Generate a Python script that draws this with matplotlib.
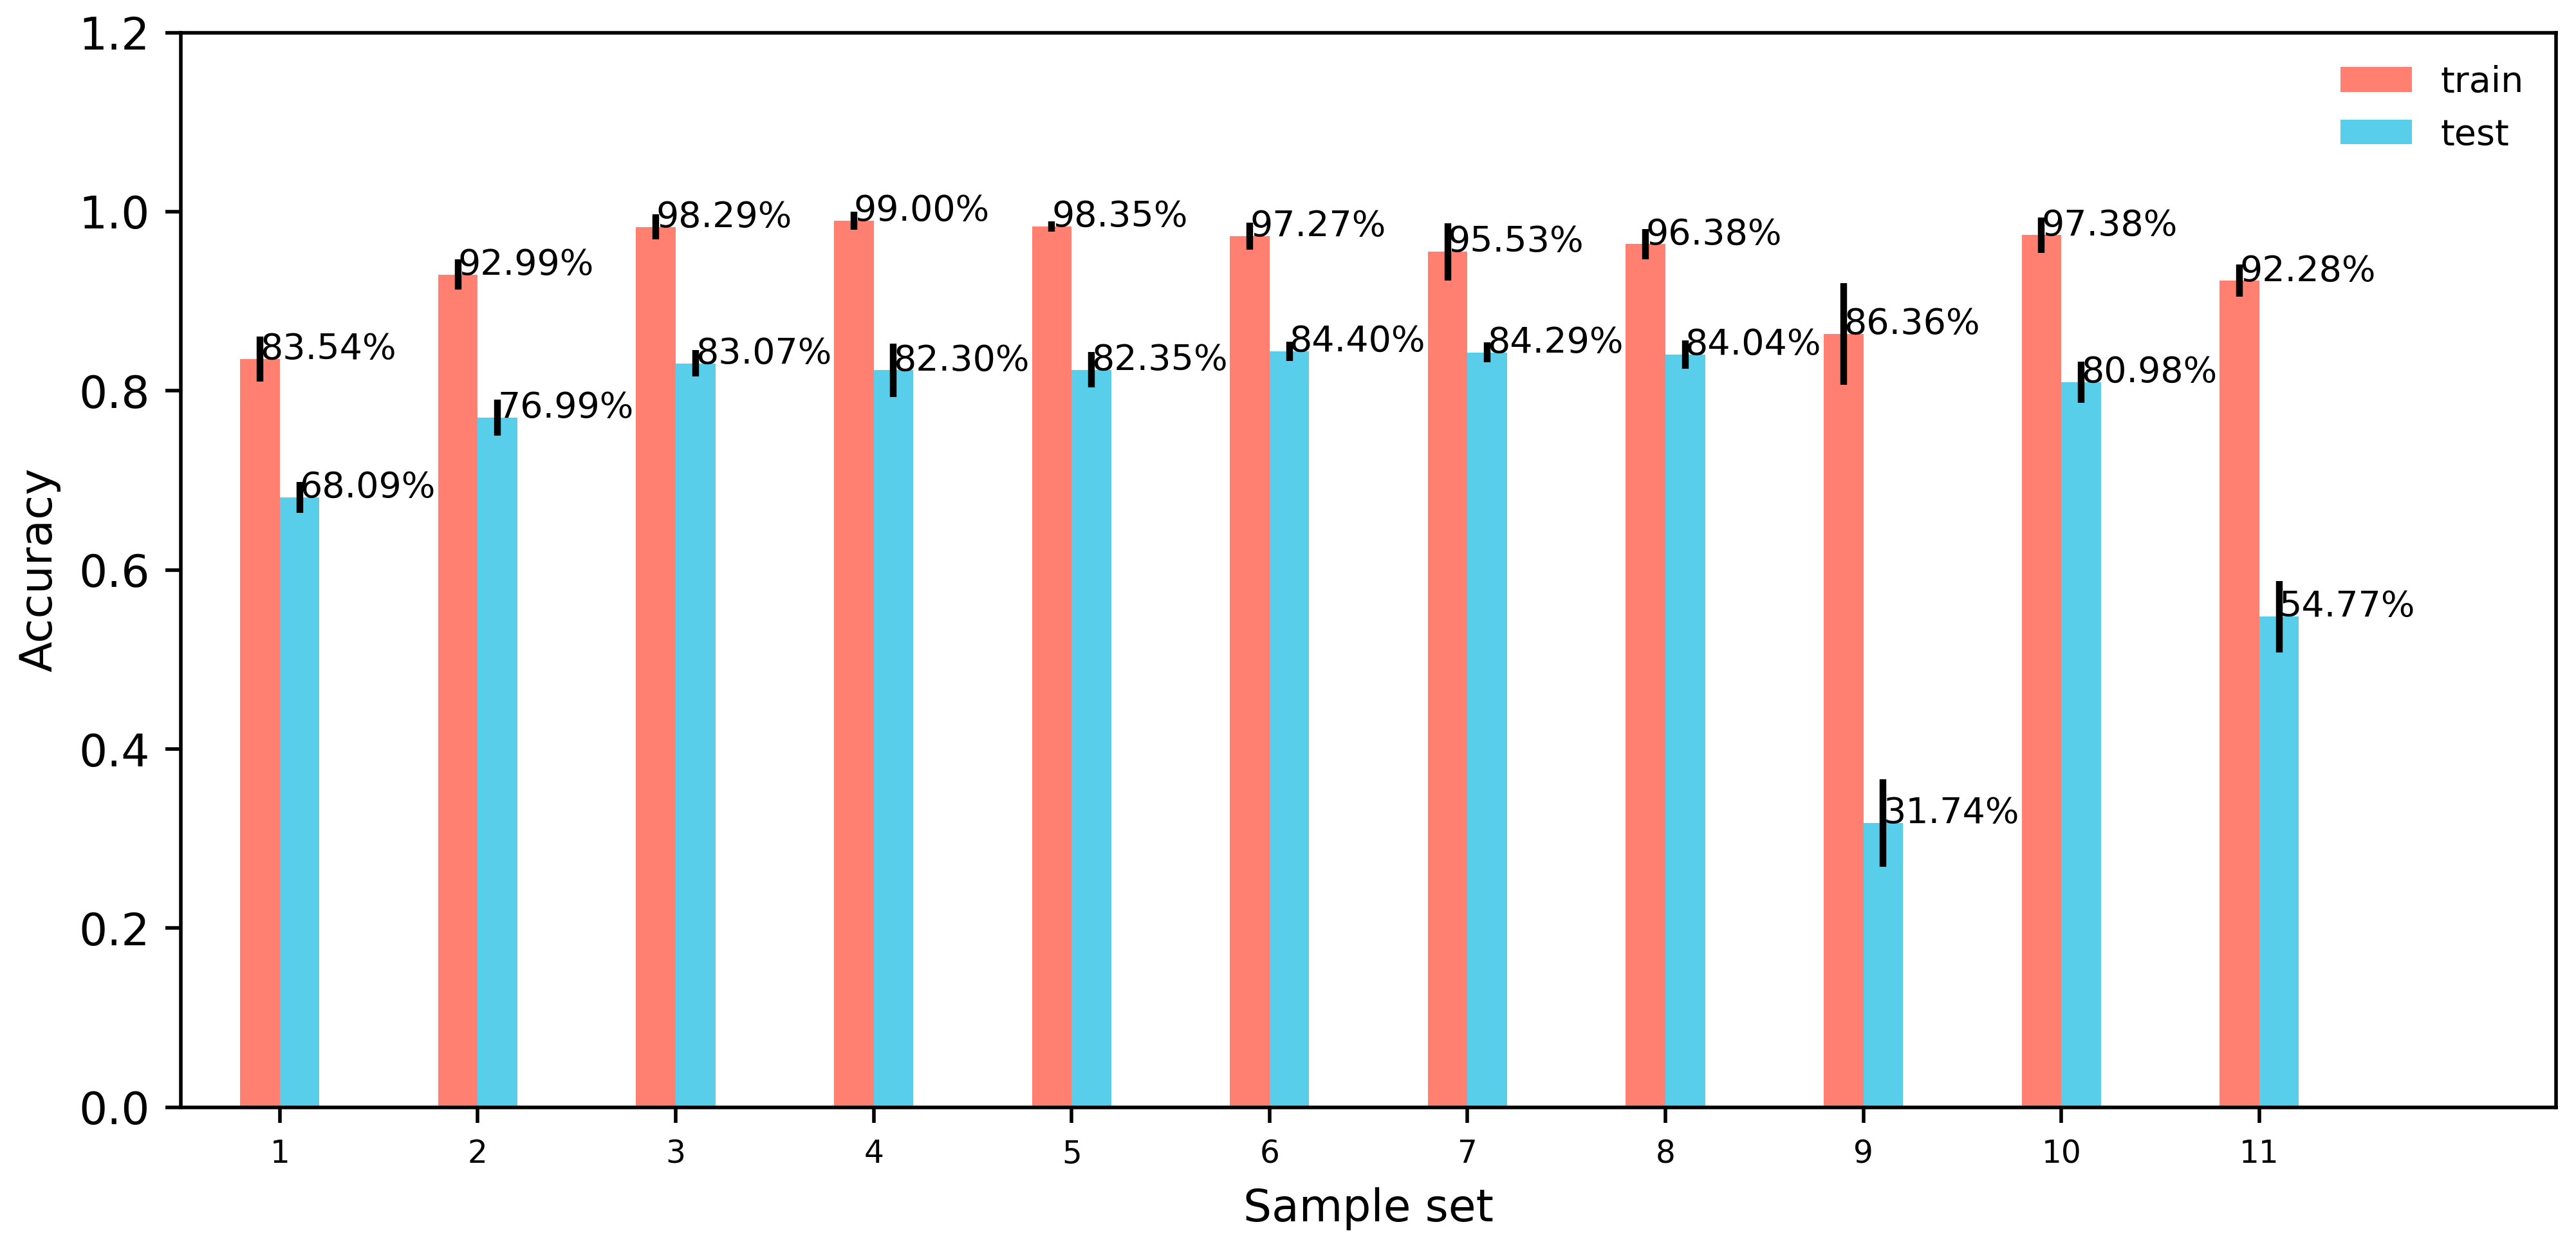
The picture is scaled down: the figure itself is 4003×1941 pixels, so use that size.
import numpy as np
import matplotlib
matplotlib.use("Agg")
import matplotlib.pyplot as plt

# accuracy per sample set
sample_sets = [1, 2, 3, 4, 5, 6, 7, 8, 9, 10, 11]
train_acc = [0.8354, 0.9299, 0.9829, 0.9900, 0.9835, 0.9727, 0.9553, 0.9638, 0.8636, 0.9738, 0.9228]
test_acc = [0.6809, 0.7699, 0.8307, 0.8230, 0.8235, 0.8440, 0.8429, 0.8404, 0.3174, 0.8098, 0.5477]

# error bar half widths
train_err = [0.025, 0.017, 0.014, 0.010, 0.006, 0.015, 0.032, 0.017, 0.057, 0.020, 0.018]
test_err = [0.017, 0.020, 0.015, 0.030, 0.020, 0.011, 0.011, 0.016, 0.049, 0.023, 0.040]

x = np.array(sample_sets)
width = 0.2

fig = plt.figure(figsize=(4003 / 500, 1941 / 500), dpi=500)
ax = fig.add_axes([0.0702, 0.1135, 0.9923 - 0.0702, 0.9739 - 0.1135])

ax.bar(x - width / 2, train_acc, width, yerr=train_err, color="#FF8070", label="train",
       error_kw=dict(elinewidth=1.5, ecolor="black"))
ax.bar(x + width / 2, test_acc, width, yerr=test_err, color="#58CEEB", label="test",
       error_kw=dict(elinewidth=1.5, ecolor="black"))

# percentage labels starting at the bar centres
for xi, v in zip(x - width / 2, train_acc):
    ax.text(xi, v, "%.2f%%" % (v * 100), fontsize=8)
for xi, v in zip(x + width / 2, test_acc):
    ax.text(xi, v, "%.2f%%" % (v * 100), fontsize=8)

ax.set_xlim(0.5, 12.5)
ax.set_ylim(0, 1.2)
ax.set_xticks(x)
ax.set_xticklabels([str(s) for s in sample_sets], fontsize=7)
ax.set_xlabel("Sample set")
ax.set_ylabel("Accuracy")
ax.legend(loc="upper right", frameon=False, fontsize=8)

fig.savefig("out.png", dpi=500)
